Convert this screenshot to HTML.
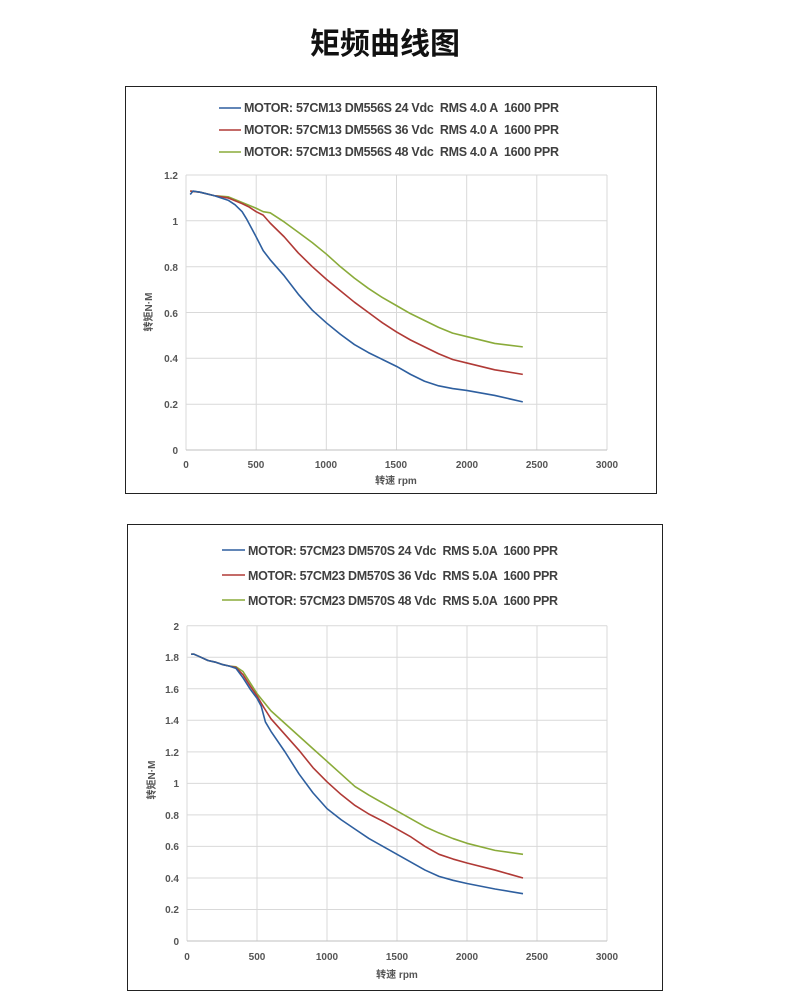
<!DOCTYPE html>
<html><head><meta charset="utf-8"><style>
html,body{margin:0;padding:0;background:#fff}
svg{display:block}
text{font-family:"Liberation Sans","Noto Sans CJK SC",sans-serif;fill:#404040}
.l{fill:none;stroke-width:1.6;vector-effect:non-scaling-stroke;stroke-linejoin:round}
.t{font-size:10px;font-weight:bold;fill:#555}
.lg{font-size:12.5px;font-weight:bold;fill:#404040;white-space:pre}
</style></head><body>
<svg width="790" height="1000" viewBox="0 0 790 1000">
<text x="385" y="54" text-anchor="middle" style="font-size:30px;font-weight:bold;fill:#111;font-family:'Noto Sans CJK SC',sans-serif">矩频曲线图</text>

<!-- Chart 1 -->
<rect x="125.5" y="86.5" width="531" height="407" fill="#fff" stroke="#222" stroke-width="1"/>
<line x1="219" y1="108" x2="241" y2="108" stroke="#2e5f9f" stroke-width="1.6"/>
<text class="lg" x="244" y="112" textLength="315">MOTOR: 57CM13 DM556S 24 Vdc  RMS 4.0 A  1600 PPR</text>
<line x1="219" y1="130" x2="241" y2="130" stroke="#b03a36" stroke-width="1.6"/>
<text class="lg" x="244" y="134" textLength="315">MOTOR: 57CM13 DM556S 36 Vdc  RMS 4.0 A  1600 PPR</text>
<line x1="219" y1="152" x2="241" y2="152" stroke="#8aab3a" stroke-width="1.6"/>
<text class="lg" x="244" y="156" textLength="315">MOTOR: 57CM13 DM556S 48 Vdc  RMS 4.0 A  1600 PPR</text>
<g stroke="#d9d9d9" stroke-width="1" fill="none">
<path d="M186 404.2H607M186 358.3H607M186 312.5H607M186 266.7H607M186 220.8H607M186 175H607M186 175V450M256.2 175V450M326.3 175V450M396.5 175V450M466.7 175V450M536.8 175V450M607 175V450"/>
<path d="M186 450H607" stroke="#bfbfbf"/>
</g>
<g transform="translate(186,450) scale(0.14033,-229.17)">
<polyline class="l" stroke="#8aab3a" points="30,1.13 100,1.125 200,1.11 300,1.105 400,1.08 500,1.055 550,1.04 600,1.035 700,0.995 800,0.95 900,0.905 1000,0.855 1100,0.8 1200,0.75 1300,0.705 1400,0.665 1500,0.63 1600,0.595 1700,0.565 1800,0.535 1900,0.51 2000,0.495 2200,0.465 2400,0.45"/>
<polyline class="l" stroke="#b03a36" points="30,1.13 100,1.125 200,1.11 300,1.1 400,1.075 450,1.06 500,1.04 550,1.025 600,0.99 700,0.93 800,0.86 900,0.8 1000,0.745 1100,0.695 1200,0.645 1300,0.6 1400,0.555 1500,0.515 1600,0.48 1700,0.45 1800,0.42 1900,0.395 2000,0.38 2200,0.35 2400,0.33"/>
<polyline class="l" stroke="#2e5f9f" points="30,1.115 50,1.13 100,1.125 200,1.11 300,1.09 350,1.07 400,1.04 430,1.01 500,0.93 550,0.87 600,0.83 700,0.76 800,0.68 900,0.61 1000,0.555 1100,0.505 1200,0.46 1300,0.425 1400,0.395 1500,0.365 1600,0.33 1700,0.3 1800,0.28 1900,0.268 2000,0.26 2200,0.238 2400,0.21"/>
</g>
<g text-anchor="end">
<text class="t" x="178" y="454">0</text><text class="t" x="178" y="408">0.2</text><text class="t" x="178" y="362">0.4</text><text class="t" x="178" y="317">0.6</text><text class="t" x="178" y="271">0.8</text><text class="t" x="178" y="225">1</text><text class="t" x="178" y="179">1.2</text>
</g>
<g text-anchor="middle">
<text class="t" x="186" y="468">0</text><text class="t" x="256" y="468">500</text><text class="t" x="326" y="468">1000</text><text class="t" x="396" y="468">1500</text><text class="t" x="467" y="468">2000</text><text class="t" x="537" y="468">2500</text><text class="t" x="607" y="468">3000</text>
</g>
<text class="t" x="396" y="484" text-anchor="middle">转速 rpm</text>
<text class="t" transform="translate(152,312) rotate(-90)" text-anchor="middle">转矩N·M</text>

<!-- Chart 2 -->
<rect x="127.5" y="524.5" width="535" height="466" fill="#fff" stroke="#222" stroke-width="1"/>
<line x1="222" y1="550" x2="245" y2="550" stroke="#2e5f9f" stroke-width="1.6"/>
<text class="lg" x="248" y="555" textLength="310">MOTOR: 57CM23 DM570S 24 Vdc  RMS 5.0A  1600 PPR</text>
<line x1="222" y1="575" x2="245" y2="575" stroke="#b03a36" stroke-width="1.6"/>
<text class="lg" x="248" y="580" textLength="310">MOTOR: 57CM23 DM570S 36 Vdc  RMS 5.0A  1600 PPR</text>
<line x1="222" y1="600" x2="245" y2="600" stroke="#8aab3a" stroke-width="1.6"/>
<text class="lg" x="248" y="605" textLength="310">MOTOR: 57CM23 DM570S 48 Vdc  RMS 5.0A  1600 PPR</text>
<g stroke="#d9d9d9" stroke-width="1" fill="none">
<path d="M187 909.5H607M187 878H607M187 846.4H607M187 814.9H607M187 783.4H607M187 751.9H607M187 720.3H607M187 688.8H607M187 657.3H607M187 625.8H607M187 625.8V941M257 625.8V941M327 625.8V941M397 625.8V941M467 625.8V941M537 625.8V941M607 625.8V941"/>
<path d="M187 941H607" stroke="#bfbfbf"/>
</g>
<g transform="translate(187,941) scale(0.14,-157.6)">
<polyline class="l" stroke="#8aab3a" points="30,1.82 50,1.82 100,1.8 150,1.78 200,1.77 250,1.755 300,1.745 350,1.74 400,1.71 450,1.64 500,1.57 600,1.46 700,1.38 800,1.3 900,1.22 1000,1.14 1100,1.06 1200,0.98 1300,0.925 1400,0.875 1500,0.825 1600,0.775 1700,0.725 1800,0.685 1900,0.65 2000,0.62 2200,0.575 2400,0.55"/>
<polyline class="l" stroke="#b03a36" points="30,1.82 50,1.82 100,1.8 150,1.78 200,1.77 250,1.755 300,1.745 350,1.735 400,1.69 450,1.62 500,1.555 550,1.48 600,1.41 700,1.31 800,1.21 900,1.1 1000,1.01 1100,0.93 1200,0.86 1300,0.805 1400,0.76 1500,0.71 1600,0.66 1700,0.6 1800,0.55 1900,0.52 2000,0.495 2200,0.45 2400,0.4"/>
<polyline class="l" stroke="#2e5f9f" points="30,1.82 50,1.82 100,1.8 150,1.78 200,1.77 250,1.755 300,1.745 350,1.73 400,1.67 450,1.6 500,1.54 530,1.49 560,1.39 600,1.33 700,1.2 800,1.06 900,0.94 1000,0.84 1100,0.77 1200,0.71 1300,0.65 1400,0.6 1500,0.55 1600,0.5 1700,0.45 1800,0.41 1900,0.385 2000,0.365 2200,0.33 2400,0.3"/>
</g>
<g text-anchor="end">
<text class="t" x="179" y="945">0</text><text class="t" x="179" y="913">0.2</text><text class="t" x="179" y="882">0.4</text><text class="t" x="179" y="850">0.6</text><text class="t" x="179" y="819">0.8</text><text class="t" x="179" y="787">1</text><text class="t" x="179" y="756">1.2</text><text class="t" x="179" y="724">1.4</text><text class="t" x="179" y="693">1.6</text><text class="t" x="179" y="661">1.8</text><text class="t" x="179" y="630">2</text>
</g>
<g text-anchor="middle">
<text class="t" x="187" y="960">0</text><text class="t" x="257" y="960">500</text><text class="t" x="327" y="960">1000</text><text class="t" x="397" y="960">1500</text><text class="t" x="467" y="960">2000</text><text class="t" x="537" y="960">2500</text><text class="t" x="607" y="960">3000</text>
</g>
<text class="t" x="397" y="978" text-anchor="middle">转速 rpm</text>
<text class="t" transform="translate(155,780) rotate(-90)" text-anchor="middle">转矩N·M</text>
</svg>
</body></html>
